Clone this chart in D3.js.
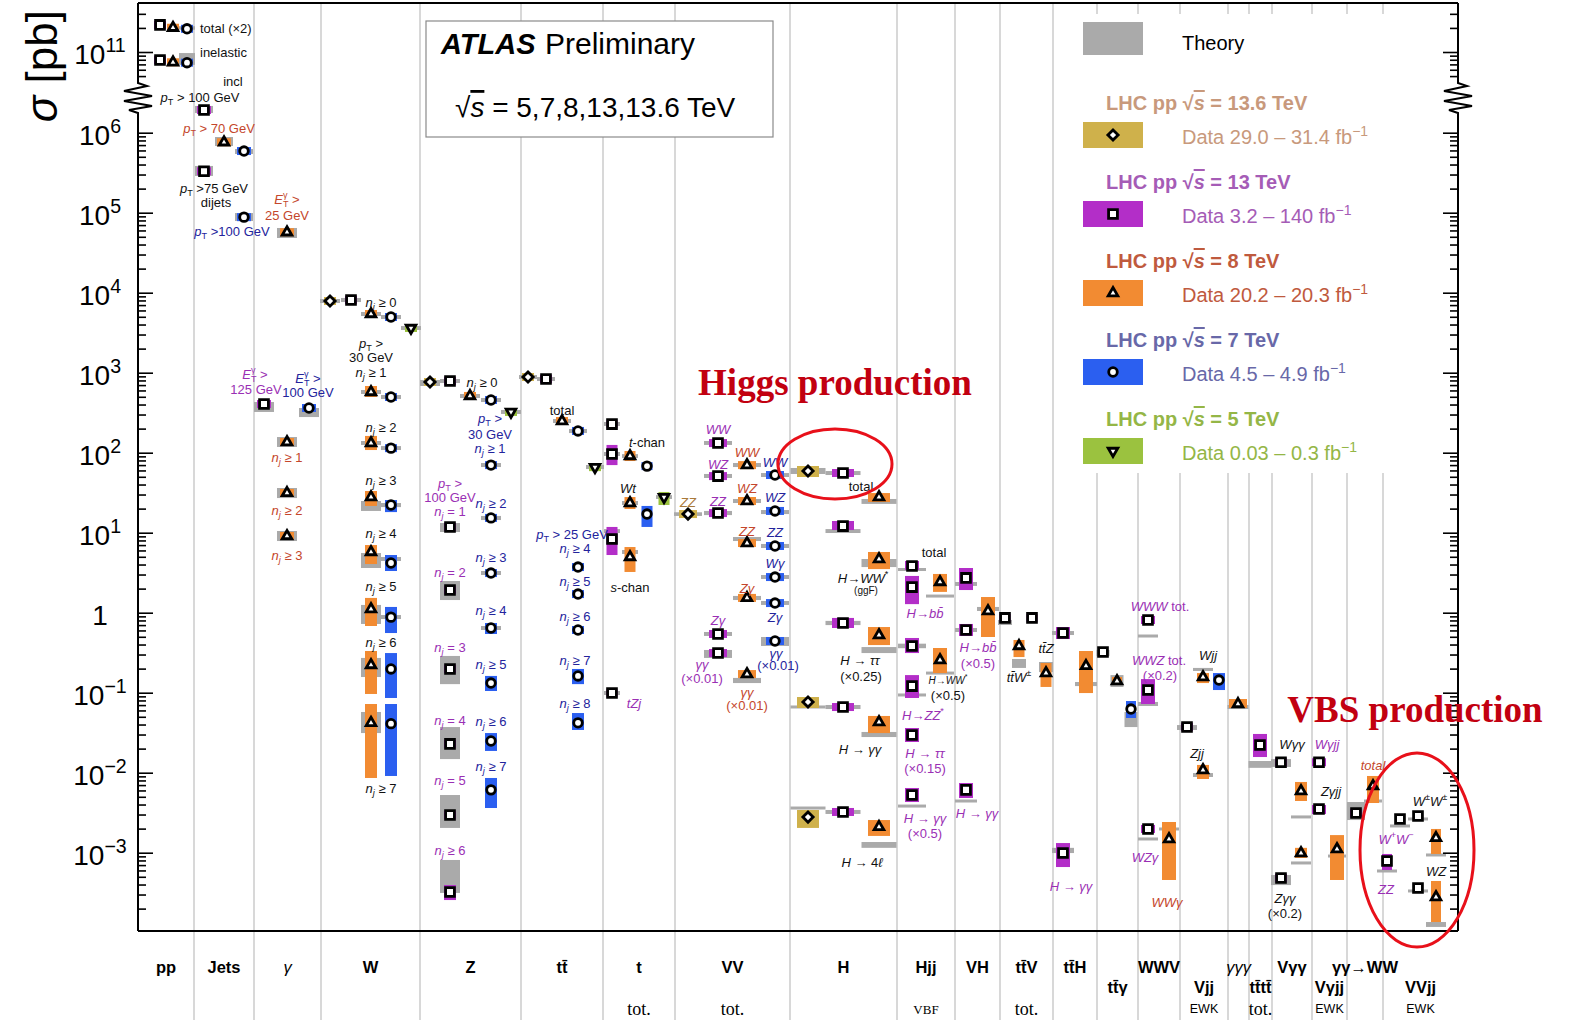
<!DOCTYPE html>
<html><head><meta charset="utf-8">
<script src="https://cdn.jsdelivr.net/npm/d3@7"></script>
<style>
body{margin:0;background:#fff}
svg{display:block}
</style>
</head><body>
<svg id="c" width="1578" height="1020" font-family="Liberation Sans, Arial, Helvetica, sans-serif"></svg>
<script>
// ---------------- DATA ----------------
const categoryNames = ["pp","Jets","\u03b3","W","Z","tt\u0304","t","VV","H","Hjj","VH","tt\u0304V","tt\u0304H","tt\u0304\u03b3","WWV","Vjj","\u03b3\u03b3\u03b3","tt\u0304tt\u0304","V\u03b3\u03b3","V\u03b3jj","\u03b3\u03b3\u2192WW","VVjj"];
const categoryEdges = [0,5.6,11.6,18.3,28.2,38.3,46.5,53.7,65.2,75.9,81.7,86.2,91.5,95.9,100.0,104.2,109.0,111.1,113.4,117.4,120.9,124.5,132];
const categoryRow  = [0,0,0,0,0,0,0,0,0,0,0,0,0,1,0,1,0,1,0,1,0,1];
const categoryNote = ["","","","","","","tot.","tot.","","VBF","","tot.","","","","EWK","","tot.","","EWK","","EWK"];

const energies = ["13.6","13","8","7","5"];
const legendTitles = ["LHC pp  \u221a`$s$` = 13.6 TeV","LHC pp  \u221a`$s$` = 13 TeV","LHC pp  \u221a`$s$` = 8 TeV","LHC pp  \u221a`$s$` = 7 TeV","LHC pp  \u221a`$s$` = 5 TeV"];
const legendData = ["Data  29.0 \u2013 31.4 fb^{\u22121}","Data  3.2 \u2013 140 fb^{\u22121}","Data  20.2 \u2013 20.3 fb^{\u22121}","Data  4.5 \u2013 4.9 fb^{\u22121}","Data  0.03 \u2013 0.3 fb^{\u22121}"];

const yMajorLow = [1e-3,1e-2,1e-1,1,10,100,1e3,1e4,1e5,1e6];
const yMajorUp = [1e11];

// rows: [x (chart units), sigma pb, dataLo, dataHi, theoryLo, theoryHi]
const points136 = [
 [19.2,7870,null,null,7430,8340],
 [29.2,765,null,null,682,811],
 [39.0,883,null,null,834,935],
 [55.0,17.1,null,null,16.2,18.0],
 [67.0,59,49.7,68.2,54.2,64.4],
 [67.0,0.0766,0.0644,0.0883,0.0644,0.0682],
 [67.0,0.00279,0.00204,0.00342,0.00352,0.00372]
];
const points13 = [
 [2.2,2.18e11],
 [2.2,7.94e10],
 [6.6,1.92e6,null,null,1.76e6,2.16e6],
 [6.6,3.3e5,null,null,2.88e5,3.84e5],
 [12.6,406,null,null,323,430],
 [21.3,8100,null,null,7650,8590],
 [31.2,787,null,null,743,834],
 [31.2,11.8,null,null,10.2,13.2],
 [31.2,1.92,null,null,1.44,2.49],
 [31.2,0.198,null,null,0.128,0.288],
 [31.2,0.0229,null,null,0.0148,0.0372],
 [31.2,0.00296,null,null,0.00204,0.00526],
 [31.2,3.23e-4,2.56e-4,3.94e-4,3.14e-4,8.11e-4],
 [40.8,834,null,null,787,883],
 [47.4,228,null,null,216,242],
 [47.4,96.4,70,125,91,102],
 [47.4,8.34,5.26,11.8,9.91,11.1],
 [47.4,0.099,null,null,0.0935,0.105],
 [58.0,132,null,null,125,140],
 [58.0,51,null,null,48.3,54.2],
 [58.0,17.6,null,null,16.6,18.7],
 [58.0,0.542,null,null,0.512,0.574],
 [58.0,0.313,null,null,0.272,0.342],
 [70.5,55.7,49.7,62.5,52.6,59],
 [70.5,12.1,10.8,14,9.91,11.1],
 [70.5,0.743,0.644,0.86,0.70,0.79],
 [70.5,0.0663,0.059,0.0743,0.0625,0.0702],
 [70.5,0.00323,0.00288,0.00362,0.00305,0.00342],
 [77.4,3.84,3.42,4.43,3.32,3.62],
 [77.4,2.09,1.28,2.88],
 [77.4,0.384,0.313,0.483,0.36,0.41],
 [77.4,0.121,0.0859,0.166,0.091,0.0964],
 [77.4,0.0296,0.0242,0.0362],
 [77.4,0.00526,0.0043,0.00644,0.00372,0.00394],
 [82.8,2.72,1.92,3.62,2.16,2.42],
 [82.8,0.608,0.512,0.723,0.574,0.644],
 [82.8,0.0061,0.00483,0.00743,0.0043,0.00456],
 [86.7,0.86,null,null,0.702,0.811],
 [89.4,0.86],
 [92.5,0.557,0.469,0.662,0.526,0.59],
 [92.5,9.9e-4,6.62e-4,0.00132,9.9e-4,0.00115],
 [96.5,0.323,null,null,0.288,0.342],
 [101.0,0.81,null,null,0.497,0.526],
 [101.0,0.108,0.0722,0.148,0.0682,0.0766],
 [101.0,0.00198,null,null,0.00144,0.00153],
 [104.9,0.0372,null,null,0.0342,0.0394],
 [112.2,0.0222,0.0157,0.0305,0.0115,0.014],
 [114.3,0.0135,null,null,0.0118,0.0148],
 [114.3,4.83e-4,null,null,3.94e-4,5.26e-4],
 [118.1,0.0135],
 [118.1,0.00352,0.00305,0.00394],
 [121.8,0.00313,null,null,0.00256,0.0043],
 [124.9,7.87e-4,6.08e-4,9.64e-4,5.74e-4,6.08e-4],
 [126.2,0.00264,null,null,0.0021,0.00222],
 [128.0,0.00288,null,null,0.00256,0.00272],
 [128.0,3.62e-4,3.14e-4,4.18e-4,3.23e-4,3.42e-4]
];
const points8 = [
 [3.5,2.01e11],
 [3.5,7.44e10],
 [8.6,7.6e5,null,null,6.82e5,8.83e5],
 [14.9,5.7e4,null,null,4.83e4,6.44e4],
 [14.9,136,null,null,118,157],
 [14.9,31.4,null,null,27.1,36.2],
 [14.9,9.1,null,null,7.87,10.5],
 [23.3,5420,null,null,5110,5740],
 [23.3,574,497,682,542,608],
 [23.3,132,108,162,125,140],
 [23.3,27.9,21.6,33.2,18.7,24.9],
 [23.3,5.74,4.06,7.01,3.62,5.57],
 [23.3,1.11,0.682,1.53,0.723,1.25],
 [23.3,0.222,0.0964,0.332,0.157,0.272],
 [23.3,0.042,0.00859,0.0722,0.0313,0.0574],
 [33.2,512,null,null,483,542],
 [42.4,249,null,null,235,264],
 [49.2,91,78.7,105,86,96],
 [49.2,23.5,19.8,27.9,22.2,24.9],
 [49.2,4.97,3.23,6.62,5.42,6.08],
 [60.9,70,null,null,66.2,74.3],
 [60.9,24.9,null,null,23.5,26.4],
 [60.9,7.43,null,null,7.87,8.83],
 [60.9,1.53,null,null,1.44,1.62],
 [60.9,0.171,null,null,0.132,0.153],
 [74.1,27.9,24.2,31.3,22.9,26.4],
 [74.1,4.69,3.51,5.74,3.72,4.69],
 [74.1,0.526,0.394,0.662,0.313,0.372],
 [74.1,0.043,0.0313,0.0512,0.0279,0.0323],
 [74.1,0.0021,0.00162,0.00256,0.00115,0.00136],
 [80.2,2.42,1.82,3.05,1.57,1.66],
 [80.2,0.256,0.176,0.362,0.171,0.181],
 [85.0,1.05,0.497,1.57,1.05,1.18],
 [88.1,0.384,0.279,0.456,0.204,0.264],
 [90.8,0.176,0.118,0.235,0.181,0.242],
 [94.8,0.216,0.099,0.332,0.121,0.136],
 [97.9,0.14,null,null,0.118,0.166],
 [103.1,0.00148,4.56e-4,0.00242,0.00192,0.00204],
 [106.5,0.157,0.132,0.176,0.187,0.204],
 [106.5,0.0108,0.00834,0.0125,0.00884,0.0099],
 [110.0,0.0723,0.0644,0.0834,0.0625,0.0702],
 [116.3,0.0059,0.00443,0.00766,0.00272,0.00288],
 [116.3,9.9e-4,8.59e-4,0.00115,7.23e-4,7.66e-4],
 [119.9,0.00111,4.56e-4,0.00166,8.83e-4,9.35e-4],
 [123.5,0.00682,0.00418,0.0091,0.0043,0.00456],
 [129.8,0.00153,9.64e-4,0.00198,9.1e-4,9.64e-4],
 [129.8,2.79e-4,1.36e-4,4.43e-4,1.18e-4,1.36e-4]
];
const points7 = [
 [4.9,1.95e11,null,null,1.9e11,2.1e11],
 [4.9,7.35e10,null,null,6.9e10,9.7e10],
 [10.6,5.9e5,null,null,5.42e5,6.25e5],
 [10.6,8.8e4,null,null,7.87e4,9.9e4],
 [17.1,362,null,null,279,362],
 [25.3,4970,null,null,4690,5260],
 [25.3,497,null,null,469,526],
 [25.3,114,null,null,108,121],
 [25.3,22.2,18.1,25.6,20.9,23.5],
 [25.3,4.18,3.32,5.26,4.43,4.97],
 [25.3,0.88,0.557,1.18,0.834,0.935],
 [25.3,0.198,0.0859,0.313],
 [25.3,0.041,0.0091,0.0722],
 [35.3,456,null,null,430,483],
 [35.3,70,null,null,66.2,74.3],
 [35.3,15.3,null,null,14.4,16.2],
 [35.3,3.13,null,null,2.96,3.32],
 [35.3,0.644,0.542,0.743,0.608,0.682],
 [35.3,0.132,0.105,0.162],
 [35.3,0.0249,0.0187,0.0313],
 [35.3,0.0061,0.00362,0.00859],
 [44.0,187,null,null,176,198],
 [44.0,3.72],
 [44.0,1.71],
 [44.0,0.608],
 [44.0,0.162,0.128,0.198],
 [44.0,0.042,0.0342,0.0557],
 [50.9,68],
 [50.9,17.1,11.8,21.6],
 [63.7,52.6,null,null,49.7,55.7],
 [63.7,18.7,null,null,17.1,19.2],
 [63.7,6.82,null,null,6.44,7.23],
 [63.7,2.79,null,null,2.64,2.96],
 [63.7,1.32,null,null,1.25,1.40],
 [63.7,0.443,null,null,0.384,0.497],
 [99.3,0.0625,0.0483,0.0787,0.0372,0.0574],
 [108.1,0.144,0.108,0.176]
];
const points5 = [
 [27.3,3620,null,null,3420,3830],
 [37.3,323,null,null,305,342],
 [45.7,66,null,null,62.5,70.2],
 [52.6,27.9,22.2,32.3,26.4,29.5]
];

// annotations: [x (chart units), log10(sigma/pb), colour key, text, anchor, size key]
const annotations = [
 [6.2,11.30,'k','total (\u00d72)','start'],
 [6.2,11.00,'k','inelastic','start'],
 [9.5,6.646,'k','incl'],
 [6.2,6.446,'k','$p$_T > 100 GeV'],
 [8.1,6.059,'8','$p$_T > 70 GeV'],
 [7.6,5.309,'k','$p$_T >75 GeV'],
 [7.8,5.134,'k','dijets'],
 [9.4,4.771,'7','$p$_T >100 GeV'],
 [14.9,5.171,'8','$E$^\u03b3_T >'],
 [14.9,4.971,'8','25 GeV'],
 [11.7,2.984,'13','$E$^\u03b3_T >'],
 [11.8,2.796,'13','125 GeV'],
 [17.0,2.934,'7','$E$^\u03b3_T >'],
 [17.0,2.759,'7','100 GeV'],
 [14.9,1.946,'8','$n_j$ \u2265 1'],
 [14.9,1.284,'8','$n_j$ \u2265 2'],
 [14.9,0.721,'8','$n_j$ \u2265 3'],
 [24.3,3.884,'k','$n_j$ \u2265 0'],
 [23.3,3.371,'k','$p$_T >'],
 [23.3,3.196,'k','30 GeV'],
 [23.3,3.009,'k','$n_j$ \u2265 1'],
 [24.3,2.321,'k','$n_j$ \u2265 2'],
 [24.3,1.659,'k','$n_j$ \u2265 3'],
 [24.3,0.996,'k','$n_j$ \u2265 4'],
 [24.3,0.334,'k','$n_j$ \u2265 5'],
 [24.3,-0.366,'k','$n_j$ \u2265 6'],
 [24.3,-2.191,'k','$n_j$ \u2265 7'],
 [34.4,2.884,'k','$n_j$ \u2265 0'],
 [35.2,2.43,'7','$p$_T >'],
 [35.2,2.236,'7','30 GeV'],
 [35.2,2.052,'7','$n_j$ \u2265 1'],
 [31.2,1.621,'13','$p$_T >'],
 [31.2,1.446,'13','100 GeV'],
 [31.2,1.271,'13','$n_j$ = 1'],
 [35.3,1.371,'7','$n_j$ \u2265 2'],
 [35.3,0.696,'7','$n_j$ \u2265 3'],
 [31.2,0.509,'13','$n_j$ = 2'],
 [35.3,0.034,'7','$n_j$ \u2265 4'],
 [31.2,-0.429,'13','$n_j$ = 3'],
 [35.3,-0.641,'7','$n_j$ \u2265 5'],
 [31.2,-1.341,'13','$n_j$ = 4'],
 [35.3,-1.354,'7','$n_j$ \u2265 6'],
 [35.3,-1.916,'7','$n_j$ \u2265 7'],
 [31.2,-2.091,'13','$n_j$ = 5'],
 [31.2,-2.966,'13','$n_j$ \u2265 6'],
 [42.4,2.534,'k','total'],
 [43.4,0.984,'7','$p$_T > 25 GeV'],
 [43.7,0.809,'7','$n_j$ \u2265 4'],
 [43.7,0.396,'7','$n_j$ \u2265 5'],
 [43.7,-0.041,'7','$n_j$ \u2265 6'],
 [43.7,-0.591,'7','$n_j$ \u2265 7'],
 [43.7,-1.129,'7','$n_j$ \u2265 8'],
 [50.9,2.134,'k','$t$-chan'],
 [49.0,1.559,'k','$Wt$'],
 [49.2,0.321,'k','$s$-chan'],
 [49.6,-1.129,'13','$tZj$'],
 [55.0,1.384,'13.6','$ZZ$'],
 [58.0,2.296,'13','$WW$'],
 [58.0,1.859,'13','$WZ$'],
 [58.0,1.396,'13','$ZZ$'],
 [60.9,2.009,'8','$WW$'],
 [60.9,1.559,'8','$WZ$'],
 [60.9,1.021,'8','$ZZ$'],
 [60.9,0.309,'8','$Z\u03b3$'],
 [60.9,-0.991,'8','$\u03b3\u03b3$'],
 [60.9,-1.154,'8','(\u00d70.01)'],
 [63.7,1.884,'7','$WW$'],
 [63.7,1.446,'7','$WZ$'],
 [63.7,1.009,'7','$ZZ$'],
 [63.7,0.621,'7','$W\u03b3$'],
 [63.7,-0.054,'7','$Z\u03b3$'],
 [63.8,-0.504,'7','$\u03b3\u03b3$'],
 [64.0,-0.654,'7','(\u00d70.01)'],
 [58.0,-0.091,'13','$Z\u03b3$'],
 [56.4,-0.641,'13','$\u03b3\u03b3$'],
 [56.4,-0.816,'13','(\u00d70.01)'],
 [72.3,1.584,'k','total'],
 [72.5,0.434,'k','$H$\u2192$WW$^*'],
 [72.8,0.284,'k','(ggF)','middle','s'],
 [72.2,-0.591,'k','$H$ \u2192 $\u03c4\u03c4$'],
 [72.3,-0.791,'k','(\u00d70.25)'],
 [72.2,-1.704,'k','$H$ \u2192 $\u03b3\u03b3$'],
 [72.4,-3.116,'k','$H$ \u2192 4$\u2113$'],
 [79.6,0.759,'k','total'],
 [78.7,-0.004,'13','$H$\u2192$bb\u0304$'],
 [81.0,-0.841,'k','$H$\u2192$WW$^*','middle','s'],
 [81.0,-1.029,'k','(\u00d70.5)'],
 [78.5,-1.279,'13','$H$\u2192$ZZ$^*'],
 [78.7,-1.754,'13','$H$ \u2192 $\u03c4\u03c4$'],
 [78.7,-1.941,'13','(\u00d70.15)'],
 [78.7,-2.566,'13','$H$ \u2192 $\u03b3\u03b3$'],
 [78.7,-2.754,'13','(\u00d70.5)'],
 [84.0,-0.429,'13','$H$\u2192$bb\u0304$'],
 [84.0,-0.629,'13','(\u00d70.5)'],
 [83.9,-2.504,'13','$H$ \u2192 $\u03b3\u03b3$'],
 [90.8,-0.441,'k','$tt\u0304Z$'],
 [88.1,-0.804,'k','$tt\u0304W$^\u00b1'],
 [93.3,-3.416,'13','$H$ \u2192 $\u03b3\u03b3$'],
 [102.2,0.084,'13','$WWW$ tot.'],
 [102.1,-0.591,'13','$WWZ$ tot.'],
 [102.2,-0.779,'13','(\u00d70.2)'],
 [100.7,-3.054,'13','$WZ\u03b3$'],
 [102.9,-3.616,'8','$WW\u03b3$'],
 [107.0,-0.529,'k','$Wjj$'],
 [105.9,-1.754,'k','$Zjj$'],
 [115.4,-1.641,'k','$W\u03b3\u03b3$'],
 [114.7,-3.566,'k','$Z\u03b3\u03b3$'],
 [114.7,-3.754,'k','(\u00d70.2)'],
 [118.9,-1.641,'13','$W\u03b3jj$'],
 [119.3,-2.229,'k','$Z\u03b3jj$'],
 [123.5,-1.904,'8','$total$'],
 [129.2,-2.354,'k','$W$^\u00b1$W$^\u00b1'],
 [125.8,-2.829,'13','$W$^+$W$^\u2212'],
 [124.8,-3.454,'13','$ZZ$'],
 [129.8,-3.229,'k','$WZ$']
];

// ---------------- STYLE ----------------
const SANS = '"Liberation Sans", Arial, Helvetica, sans-serif';
const SERIF = '"Liberation Serif", "Times New Roman", Times, serif';
const boxColor = {"13.6":"#cfb14b","13":"#b32ec8","8":"#f28b32","7":"#2b5ff0","5":"#9bc23f"};
const labelColor = {k:"#111","13.6":"#a9793a","13":"#9a2fb4","8":"#c4462b","7":"#23239c"};
const legendTextColor = {"13.6":"#c8997c","13":"#a55cb6","8":"#bf5a3e","7":"#6868a8","5":"#94b646"};
const theoryColor = "#aaaaaa";
const dataBoxW   = [12,14,14,12,12,12,11,18,22,14,14,11,14,10,14,12,18,14,12,14,12,10];
const theoryBoxW = [16,18,20,20,20,18,16,28,35,28,22,14,22,13,20,20,21,23,20,18,18,20];

const W = 1578, H = 1020;
const plot = {left:138, right:1458, top:3, bottom:931};
const svg = d3.select('#c');

const x = d3.scaleLinear().domain([0,132]).range([plot.left, plot.right]);
const yLow = d3.scaleLog().domain([1e-4,1e6]).range([932.7,132.7]);
const yUp  = d3.scaleLog().domain([1e10,1e12]).range([132,-28]);
const y = v => v >= 1e9 ? yUp(v) : yLow(v);

// rich text: $..$ italic, `..` overline, _x / _{..} subscript, ^x / ^{..} superscript
function rich(parent, str, px, py, size, color, anchor, extra) {
  const t = parent.append('text').attr('x',px).attr('y',py).attr('font-size',size)
    .attr('fill',color).attr('text-anchor',anchor||'middle').style('font-family',SANS);
  if (extra) extra(t);
  let italic=false, over=false, off=0, i=0, buf='', lastSup=null;
  const flush = () => {
    if (!buf) return;
    const ts = t.append('tspan').text(buf).attr('font-style', italic?'italic':'normal');
    if (over) ts.style('text-decoration','overline');
    if (off!==0) { ts.attr('dy', off); off=0; }
    buf=''; lastSup=null;
  };
  while (i < str.length) {
    const ch = str[i];
    if (ch === '$') { flush(); italic=!italic; i++; continue; }
    if (ch === '`') { flush(); over=!over; i++; continue; }
    if (ch === '_' || ch === '^') {
      flush(); i++;
      let grp;
      if (str[i] === '{') { const j = str.indexOf('}', i); grp = str.slice(i+1,j); i=j+1; }
      else { grp = str[i]; i++; }
      const target = ch==='^' ? 0.42*size : -0.24*size;
      const ts = t.append('tspan').text(grp).attr('font-size', size*0.7)
        .attr('font-style', italic?'italic':'normal').attr('dy', -(target-off));
      if (ch==='_' && lastSup) ts.attr('dx', -lastSup.node().getComputedTextLength());
      off = target;
      lastSup = ch==='^' ? ts : null;
      continue;
    }
    buf += ch; i++;
  }
  flush();
  return t;
}

// ---------------- GRID ----------------
svg.append('g').selectAll('line').data(categoryEdges.slice(1,-1)).join('line')
  .attr('x1',d=>x(d)).attr('x2',d=>x(d)).attr('y1',plot.top).attr('y2',H)
  .attr('stroke','#d8d8d8').attr('stroke-width',2);

// ATLAS box
svg.append('rect').attr('x',426).attr('y',21).attr('width',347).attr('height',116)
  .attr('fill','#fff').attr('stroke','#8a8a8a').attr('stroke-width',1.2);
svg.append('text').attr('x',441).attr('y',54).attr('font-size',29).attr('font-weight','bold')
  .attr('font-style','italic').attr('fill','#000').style('font-family',SANS).text('ATLAS');
svg.append('text').attr('x',545).attr('y',54).attr('font-size',30).attr('fill','#000').style('font-family',SANS).text('Preliminary');
rich(svg,'\u221a`$s$` = 5,7,8,13,13.6 TeV',455,117,28,'#000','start');

// Legend
const lg = svg.append('g');
lg.append('rect').attr('x',1058).attr('y',14).attr('width',394).attr('height',459).attr('fill','#fff');
lg.append('rect').attr('x',1083).attr('y',22).attr('width',60).attr('height',33).attr('fill',theoryColor);
lg.append('text').attr('x',1182).attr('y',50).attr('font-size',20).attr('fill','#000').style('font-family',SANS).text('Theory');

// marker generators
const symSq = d3.symbol(d3.symbolSquare,78)();
const symDia = d3.symbol(d3.symbolSquare,52)();
const symTri = d3.symbol(d3.symbolTriangle,40)();
const symCir = d3.symbol(d3.symbolCircle,58)();
const markerPath = {"13.6":symDia,"13":symSq,"8":symTri,"7":symCir,"5":symTri};
const markerRot  = {"13.6":45,"13":0,"8":0,"7":0,"5":180};
function marker(g, e, cx, cy) {
  g.append('path').attr('d',markerPath[e])
   .attr('transform',`translate(${cx},${cy}) rotate(${markerRot[e]})`)
   .attr('fill','#fff').attr('stroke','#000').attr('stroke-width',2.8).attr('stroke-linejoin','miter');
}

energies.forEach((e,i)=>{
  const dy = 79*i;
  rich(lg, legendTitles[i], 1106, 110+dy, 20, legendTextColor[e], 'start', t=>t.attr('font-weight','bold'));
  lg.append('rect').attr('x',1083).attr('y',122+dy).attr('width',60).attr('height',26).attr('fill',boxColor[e]);
  marker(lg, e, 1113, 135+dy);
  rich(lg, legendData[i], 1182, 144+dy, 20, legendTextColor[e], 'start');
});

// ---------------- MEASUREMENTS ----------------
const series = [["13.6",points136],["13",points13],["8",points8],["7",points7],["5",points5]];
const catOf = u => Math.max(0, Math.min(categoryNames.length-1, d3.bisectRight(categoryEdges,u)-1));
function boxGeom(v, lo, hi, minH) {
  let y1, y2;
  if (lo == null || hi == null) { const m = y(v); y1=m-minH/2; y2=m+minH/2; }
  else { y1 = y(hi); y2 = y(lo); if (y2-y1 < minH) { const m=(y1+y2)/2; y1=m-minH/2; y2=m+minH/2; } }
  return [y1, y2-y1];
}
const gTh = svg.append('g'), gDa = svg.append('g'), gMk = svg.append('g');
series.forEach(([e,pts])=>{
  pts.forEach(p=>{
    const [u,v,dLo,dHi,tLo,tHi] = p;
    const c = catOf(u), cx = x(u);
    if (tLo != null && tHi != null) {
      const [yy,hh] = boxGeom(v,tLo,tHi,3);
      const w = theoryBoxW[c];
      gTh.append('rect').attr('x',cx-w/2).attr('y',yy).attr('width',w).attr('height',hh).attr('fill',theoryColor);
    }
    const [yy,hh] = boxGeom(v,dLo,dHi,8);
    const w = dataBoxW[c];
    gDa.append('rect').attr('x',cx-w/2).attr('y',yy).attr('width',w).attr('height',hh).attr('fill',boxColor[e]);
    marker(gMk, e, cx, y(v));
  });
});

// annotations
const gAn = svg.append('g');
annotations.forEach(a=>{
  const [u,lv,ck,txt,anc,sz] = a;
  const size = sz==='s' ? 10 : 13;
  rich(gAn, txt, x(u), y(Math.pow(10,lv)) + 0.36*size, size, labelColor[ck], anc||'middle');
});

// ---------------- AXES / FRAME ----------------
const tickG = svg.append('g');
const minorLow = [], minorUp = [];
for (let n=-4;n<=6;n++) for (let k=2;k<=9;k++){ const v=k*Math.pow(10,n); const yy=yLow(v); if (yy>=114 && yy<=929) minorLow.push(v); }
for (let n=10;n<=11;n++) for (let k=2;k<=9;k++){ const v=k*Math.pow(10,n); const yy=yUp(v); if (yy>=6 && yy<=80) minorUp.push(v); }
function axes(scale, majors, minors) {
  [[d3.axisRight, plot.left],[d3.axisLeft, plot.right]].forEach(([ax,px])=>{
    tickG.append('g').attr('transform',`translate(${px},0)`)
      .call(ax(scale).tickValues(majors).tickSize(15).tickFormat(''))
      .call(g=>g.select('.domain').remove());
    tickG.append('g').attr('transform',`translate(${px},0)`)
      .call(ax(scale).tickValues(minors).tickSize(8).tickFormat(''))
      .call(g=>g.select('.domain').remove());
  });
}
axes(yLow, yMajorLow, minorLow);
axes(yUp, yMajorUp, minorUp);
tickG.selectAll('line').attr('stroke-width',1.6).attr('stroke','#000');

const fmt = v => { const e = Math.round(Math.log10(v)); return e===0 ? '1' : '10^{' + (e<0 ? '\u2212'+(-e) : e) + '}'; };
yMajorLow.forEach(v=> rich(svg, fmt(v), 100, yLow(v)+12, 28, '#000', 'middle'));
yMajorUp.forEach(v=> rich(svg, fmt(v), 100, yUp(v)+12, 28, '#000', 'middle'));

// frame with axis breaks
const zz = [[0,83],[9,86],[-14,91],[14,96],[-14,101],[14,106],[-9,110],[0,113]];
const sidePath = px => `M${px},${plot.top} ` + zz.map(([dx,yy])=>`L${px+dx},${yy}`).join(' ') + ` L${px},${plot.bottom}`;
svg.append('path').attr('d', sidePath(plot.left)).attr('fill','none').attr('stroke','#000').attr('stroke-width',2);
svg.append('path').attr('d', sidePath(plot.right)).attr('fill','none').attr('stroke','#000').attr('stroke-width',2);
svg.append('line').attr('x1',plot.left).attr('x2',plot.right).attr('y1',plot.top).attr('y2',plot.top).attr('stroke','#000').attr('stroke-width',2);
svg.append('line').attr('x1',plot.left).attr('x2',plot.right).attr('y1',plot.bottom).attr('y2',plot.bottom).attr('stroke','#000').attr('stroke-width',2);

// y title
const yt = svg.append('text').attr('transform','translate(57,10) rotate(-90)').attr('text-anchor','end')
  .attr('font-size',44).attr('fill','#000').style('font-family',SANS);
yt.append('tspan').attr('font-style','italic').text('\u03c3');
yt.append('tspan').text(' [pb]');

// category labels
const gC = svg.append('g');
categoryNames.forEach((n,i)=>{
  const cx = x((categoryEdges[i]+categoryEdges[i+1])/2);
  const t = gC.append('text').attr('x',cx).attr('y', categoryRow[i] ? 993 : 973).attr('text-anchor','middle')
    .attr('font-size',16.5).attr('font-weight','bold').attr('fill','#000').style('font-family',SANS).text(n);
  if (n === "\u03b3" || n === "\u03b3\u03b3\u03b3") t.attr('font-style','italic').attr('font-weight','normal');
  const note = categoryNote[i];
  if (note) {
    const s = gC.append('text').attr('x',cx).attr('text-anchor','middle').attr('fill','#000').text(note);
    if (note==='EWK') s.attr('y',1013).attr('font-size',12.5).style('font-family',SANS);
    else if (note==='VBF') s.attr('y',1014).attr('font-size',13).style('font-family',SERIF);
    else s.attr('y',1015).attr('font-size',18).style('font-family',SERIF);
  }
});

// highlighted regions
const red = "#c20010";
svg.append('text').attr('x',x(69.7)).attr('y',y(Math.pow(10,2.884))+13).attr('text-anchor','middle')
  .style('font-family',SERIF).attr('font-weight','bold').attr('font-size',37)
  .attr('fill',red).text('Higgs production');
svg.append('ellipse').attr('cx',x(69.7)).attr('cy',y(Math.pow(10,1.859))).attr('rx',57).attr('ry',35)
  .attr('fill','none').attr('stroke','#e8101a').attr('stroke-width',3);
svg.append('text').attr('x',x(127.7)).attr('y',y(Math.pow(10,-1.204))+13).attr('text-anchor','middle')
  .style('font-family',SERIF).attr('font-weight','bold').attr('font-size',37)
  .attr('fill',red).text('VBS production');
svg.append('ellipse').attr('cx',x(127.9)).attr('cy',y(Math.pow(10,-2.966))).attr('rx',57).attr('ry',97)
  .attr('fill','none').attr('stroke','#e8101a').attr('stroke-width',3);
</script>
</body></html>
